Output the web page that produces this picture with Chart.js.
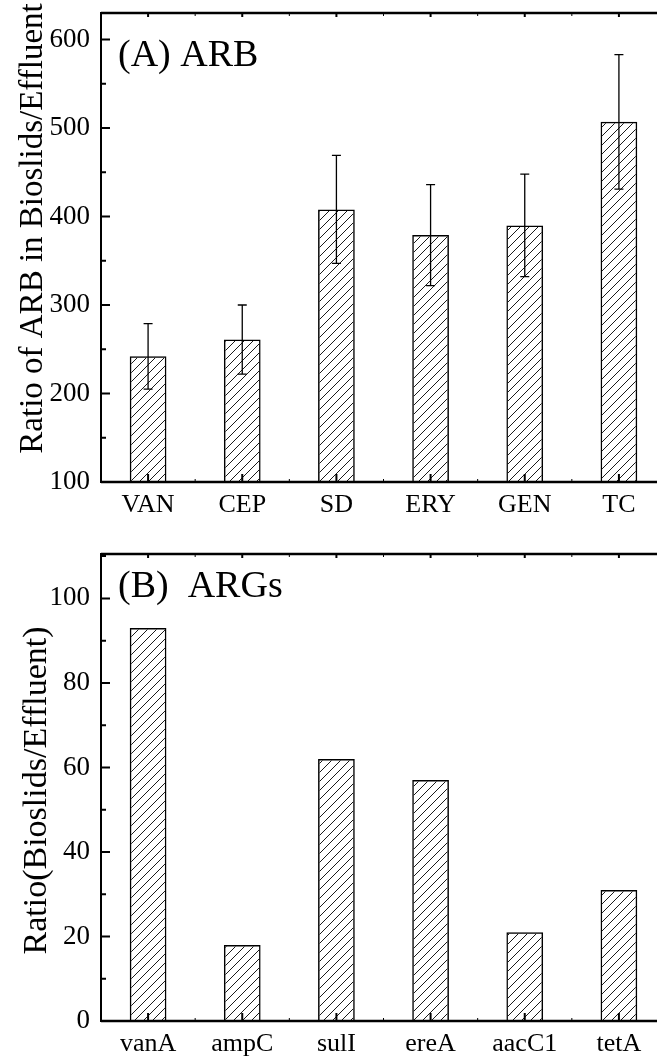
<!DOCTYPE html>
<html>
<head>
<meta charset="utf-8">
<script src="https://cdn.jsdelivr.net/npm/chart.js@4.4.0/dist/chart.umd.min.js"></script>
<style>
  body { margin: 0; background: #fff; overflow: hidden; width: 657px; height: 1063px; }
  canvas { display: block; }
</style>
</head>
<body>
<canvas id="arb" width="666" height="525"></canvas>
<canvas id="arg" width="666" height="538"></canvas>
<script>
// (A) resistant bacteria
const arbLabels = ["VAN", "CEP", "SD", "ERY", "GEN", "TC"];
const arbRatio = [242, 261, 408, 379, 390, 507];
const arbError = [37, 39, 61, 57, 58, 76];
const arbTicks = [100, 200, 300, 400, 500, 600];

// (B) resistance genes
const argLabels = ["vanA", "ampC", "sulI", "ereA", "aacC1", "tetA"];
const argRatio = [93, 18, 62, 57, 21, 31];
const argTicks = [0, 20, 40, 60, 80, 100];

const serif = "'Liberation Serif', 'Times New Roman', serif";

function hatch() {
  const c = document.createElement("canvas");
  c.width = 9;
  c.height = 9;
  const g = c.getContext("2d");
  g.strokeStyle = "#1a1a1a";
  g.lineWidth = 1;
  g.beginPath();
  g.moveTo(-1, 10); g.lineTo(10, -1);
  g.moveTo(-1, 1); g.lineTo(1, -1);
  g.moveTo(8, 10); g.lineTo(10, 8);
  g.stroke();
  return g.createPattern(c, "repeat");
}

// axes box, inward ticks, error bars, panel tag and y title
const frame = {
  id: "frame",
  afterDatasetsDraw(chart, args, opts) {
    const { ctx, chartArea: a } = chart;
    const x = chart.scales.x, y = chart.scales.y;
    ctx.save();
    ctx.strokeStyle = "#000";

    if (opts.errors) {
      ctx.lineWidth = 1.3;
      const vals = chart.data.datasets[0].data;
      chart.getDatasetMeta(0).data.forEach((bar, i) => {
        const top = y.getPixelForValue(vals[i] + opts.errors[i]);
        const bot = y.getPixelForValue(vals[i] - opts.errors[i]);
        ctx.beginPath();
        ctx.moveTo(bar.x, top); ctx.lineTo(bar.x, bot);
        ctx.moveTo(bar.x - 4.5, top); ctx.lineTo(bar.x + 4.5, top);
        ctx.moveTo(bar.x - 4.5, bot); ctx.lineTo(bar.x + 4.5, bot);
        ctx.stroke();
      });
    }

    // y ticks (major + minor), pointing inward
    const tv = y.ticks.map(t => t.value);
    const step = tv[1] - tv[0];
    ctx.lineWidth = 2;
    ctx.beginPath();
    tv.forEach(v => {
      const py = y.getPixelForValue(v);
      ctx.moveTo(a.left, py); ctx.lineTo(a.left + 9, py);
      [v - step / 2, v + step / 2].forEach(m => {
        if (m > y.min && m < y.max) {
          const pm = y.getPixelForValue(m);
          ctx.moveTo(a.left, pm); ctx.lineTo(a.left + 5, pm);
        }
      });
    });
    ctx.stroke();

    // x ticks at categories and between them
    ctx.beginPath();
    ctx.lineWidth = 2;
    x.ticks.forEach((t, i) => {
      const px = x.getPixelForTick(i);
      ctx.moveTo(px, a.bottom); ctx.lineTo(px, a.bottom - 8);
      ctx.moveTo(px, a.top); ctx.lineTo(px, a.top + 4);
    });
    ctx.stroke();
    ctx.beginPath();
    ctx.lineWidth = 1;
    for (let i = 0; i < x.ticks.length; i++) {
      const pb = x.getPixelForValue(i + 0.5);
      ctx.moveTo(pb, a.bottom); ctx.lineTo(pb, a.bottom - 3);
      ctx.moveTo(pb, a.top); ctx.lineTo(pb, a.top + 3);
    }
    ctx.stroke();

    // axis lines
    ctx.lineWidth = 2.5;
    ctx.beginPath();
    ctx.moveTo(a.left, a.top); ctx.lineTo(a.right, a.top);
    ctx.moveTo(a.left, a.bottom); ctx.lineTo(a.right, a.bottom);
    ctx.stroke();
    ctx.lineWidth = 2;
    ctx.beginPath();
    ctx.moveTo(a.left, a.top - 1); ctx.lineTo(a.left, a.bottom + 1);
    ctx.stroke();

    ctx.fillStyle = "#000";
    ctx.font = "38px " + serif;
    ctx.textBaseline = "alphabetic";
    ctx.fillText(opts.tag, a.left + 17, a.top + opts.tagDy);

    // rotated y title
    ctx.translate(opts.titleX, (a.top + a.bottom) / 2 + opts.titleDy);
    ctx.rotate(-Math.PI / 2);
    ctx.textAlign = "center";
    ctx.font = opts.titleSize + "px " + serif;
    ctx.fillText(opts.title, 0, 0);
    ctx.restore();
  }
};

function makeChart(id, labels, values, ticks, yMin, yMax, pad, axisH, extra) {
  return new Chart(document.getElementById(id), {
    type: "bar",
    data: {
      labels: labels,
      datasets: [{
        data: values,
        backgroundColor: hatch(),
        borderColor: "#000",
        borderWidth: 1.5,
        barPercentage: 0.39,
        categoryPercentage: 1,
      }],
    },
    options: {
      responsive: false,
      animation: false,
      layout: { padding: { top: pad, left: 0, right: 0, bottom: 0 } },
      plugins: {
        legend: { display: false },
        tooltip: { enabled: false },
        frame: extra,
      },
      scales: {
        x: {
          grid: { display: false, drawTicks: false },
          border: { display: false },
          ticks: { color: "#000", padding: 8, font: { family: serif, size: 26 } },
          afterFit: s => { s.height = axisH; s.paddingLeft = 0; s.paddingRight = 0; },
        },
        y: {
          min: yMin,
          max: yMax,
          grid: { display: false, drawTicks: false },
          border: { display: false },
          afterBuildTicks: s => { s.ticks = ticks.map(v => ({ value: v })); },
          ticks: { color: "#000", padding: 11, font: { family: serif, size: 27 } },
          afterFit: s => { s.width = 101; s.paddingTop = 0; s.paddingBottom = 0; },
        },
      },
    },
    plugins: [frame],
  });
}

makeChart("arb", arbLabels, arbRatio, arbTicks, 100, 630, 13, 43, {
  errors: arbError, tag: "(A) ARB", tagDy: 53,
  title: "Ratio of ARB in Bioslids/Effluent", titleSize: 33, titleX: 42, titleDy: -19,
});

makeChart("arg", argLabels, argRatio, argTicks, 0, 110.5, 29, 42, {
  tag: "(B)  ARGs", tagDy: 43,
  title: "Ratio(Bioslids/Effluent)", titleSize: 34, titleX: 46, titleDy: 3,
});
</script>
</body>
</html>
